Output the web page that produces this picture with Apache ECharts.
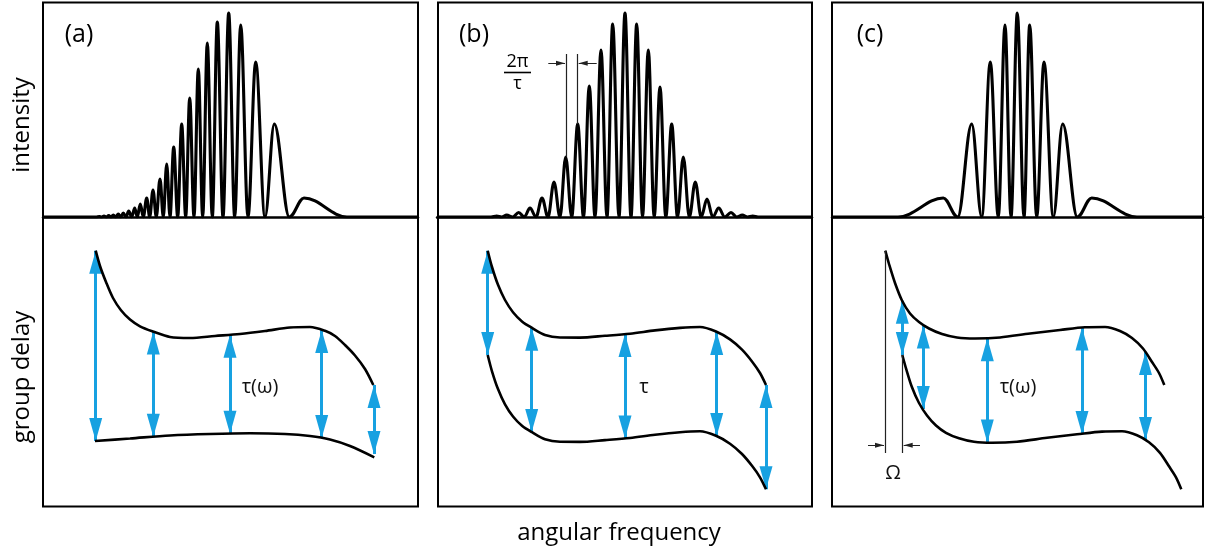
<!DOCTYPE html>
<html>
<head>
<meta charset="utf-8">
<script src="https://cdn.jsdelivr.net/npm/echarts@6.0.0/dist/echarts.min.js"></script>
<style>
    html, body { margin: 0; padding: 0; background: #fff; }
    #chart { width: 1205px; height: 550px; }
</style>
</head>
<body>
<div id="chart"></div>
<script>
(function () {

    // ---- intensity spectra: fringe peaks (x, height) and zero crossings ----
    var peaksAX = [56.3, 61, 65.7, 70.3, 75.3, 80.3, 85.7, 91.7, 97.3, 103.7, 110, 117, 123.7, 130.7, 138.7, 146.7, 155.3, 164.3, 174.3, 185.7, 197.7, 212.7, 231.3, 261];
    var peaksAH = [0.5, 1, 1.5, 2, 3, 4, 6, 9, 13, 19, 27, 38, 53, 70, 93, 119, 148, 174, 195, 204, 192, 155, 93, 19];
    var zerosAX = [53, 58.7, 63.3, 68, 72.7, 77.7, 83, 88.7, 94.3, 100.3, 106.7, 113.3, 120.3, 127, 134.7, 142.7, 151, 159.7, 169.3, 180, 191.7, 205, 222, 246.3, 304];

    var peaksBX = [59.7, 69.7, 81.7, 93, 105, 117, 128.7, 140.7, 152.3, 164, 175.7, 188, 199.7, 211.3, 223, 234.7, 246.3, 258.3, 270, 281.7, 294, 305.3, 315.7];
    var peaksBH = [1, 2, 4.5, 9, 19, 35, 60, 93, 131, 167, 193, 204, 193, 167, 130, 93, 60, 35, 18, 9, 4.5, 2, 1];
    var zerosBX = [54, 64.7, 75.7, 87.3, 99, 111, 123, 134.7, 146.5, 158, 170, 182, 194, 205.5, 217.2, 228.8, 240.5, 252.3, 264.2, 275.8, 287.8, 299.7, 310.5, 321];

    var peaksCX = [111.3, 139.7, 158.3, 173, 185.3, 197.7, 212, 230.7, 259.7];
    var peaksCH = [19, 93, 155, 192, 204, 192, 155, 93, 19];
    var zerosCX = [66, 125.7, 149.7, 166.3, 179, 192, 204.7, 221.3, 245.3, 305];

    // ---- group delay curves [frequency, delay] ----
    var delayUpperA = [[52.7, 256.3], [57, 241], [63, 225], [70, 209], [78, 196.8], [87, 187.5], [97, 180.7], [110, 175.5], [127, 170], [147, 169], [172, 171], [197, 173], [222, 176], [247, 179.5], [267, 180], [282, 176.2], [292, 171], [302, 162], [312, 151.5], [322, 138], [330.3, 122]];
    var delayLowerA = [[52, 66], [87, 68.5], [127, 71.5], [167, 73], [207, 73.7], [242, 73], [267, 71], [287, 67.5], [307, 61], [331.3, 49.7]];

    var delayUpperB = [[50.7, 256.3], [55, 240], [61, 222.2], [68, 207], [76, 194.8], [85, 185.6], [95, 179.1], [108, 172], [123, 169.5], [143, 169.4], [168, 171.2], [193, 173.3], [218, 176.6], [243, 179.1], [263, 180], [279, 175.5], [293, 167.6], [305, 157.3], [315, 145.5], [323, 134], [329, 122]];
    var delayLowerB = [[50.7, 152], [55, 135.7], [61, 117.9], [68, 102.7], [76, 90.5], [85, 81.3], [95, 74.8], [108, 67.7], [123, 65.2], [143, 65.1], [168, 66.9], [193, 69], [218, 72.3], [243, 74.8], [263, 75.7], [279, 71.2], [293, 63.3], [305, 53], [315, 41.2], [323, 29.7], [329, 17.7]];

    var delayUpperC = [[53.3, 256.3], [57, 243], [63, 224], [70, 206.5], [78, 193.5], [87, 185], [97, 178.5], [110, 173], [125, 169.5], [143, 168.5], [168, 169.5], [198, 173.5], [228, 177], [253, 179.7], [273, 180], [288, 176], [300, 169], [311, 158.5], [320, 145], [327, 134], [332.3, 122]];
    var delayLowerC = [[70.3, 152], [74, 138.7], [80, 119.7], [87, 104], [95, 91.5], [104, 81.5], [114, 74.2], [127, 68.7], [142, 65.2], [160, 64.2], [185, 65.2], [215, 69.2], [245, 72.7], [270, 75.4], [290, 75.7], [305, 71.7], [317, 64.7], [328, 54.2], [337, 40.7], [344, 29.7], [349.3, 17.7]];

    // delay arrows: [frequency, upper delay, lower delay]
    var arrowsA = [[52.7, 256.3, 66], [110.3, 175.4, 70.2], [187, 172.2, 73.3], [278.7, 177, 69], [331, 122, 53]];
    var arrowsB = [[50.7, 256.3, 152], [94.7, 179.3, 75], [188, 173, 68.6], [279.7, 175, 71], [329, 122, 17.7]];
    var arrowsC = [[70.3, 206.3, 152], [91.3, 181.5, 98], [155.3, 168.7, 64.5], [250, 179.5, 73], [313.5, 155, 67]];

    // fringe spacing marker (b) and shift marker (c)
    var fringeGuidesB = [[129, 163, 60], [140.7, 163, 93]];
    var fringeArrowsB = [[111.3, 128, 153.7], [159.7, 141.7, 153.7]];
    var shiftGuidesC = [[53.3, 256.3, 54], [70.7, 152, 54]];
    var shiftArrowsC = [[36, 52, 61.7], [88, 71.7, 61.7]];

    var BLUE = '#17a1e1';
    var FONT = '"Open Sans", "Noto Sans", sans-serif';
    var TOP_H = 215, BOT_H = 290;

    var panels = [
        {left: 43, right: 418, frame: 43, tag: '(a)', tagX: 79, label: 'τ(ω)', labelX: 260,
            peaksX: peaksAX, peaksH: peaksAH, zerosX: zerosAX, upper: delayUpperA, lower: delayLowerA, arrows: arrowsA},
        {left: 437, right: 812, frame: 438, tag: '(b)', tagX: 474, label: 'τ', labelX: 644,
            peaksX: peaksBX, peaksH: peaksBH, zerosX: zerosBX, upper: delayUpperB, lower: delayLowerB, arrows: arrowsB},
        {left: 832, right: 1203, frame: 832, tag: '(c)', tagX: 870, label: 'τ(ω)', labelX: 1018,
            peaksX: peaksCX, peaksH: peaksCH, zerosX: zerosCX, upper: delayUpperC, lower: delayLowerC, arrows: arrowsC}
    ];

    function spectrum(p, width) {
        var pts = [[0, 0], [width, 0]];
        p.peaksX.forEach(function (x, i) { pts.push([x, p.peaksH[i]]); });
        p.zerosX.forEach(function (x) { pts.push([x, 0]); });
        pts.sort(function (a, b) { return a[0] - b[0]; });
        return pts;
    }

    // arrow heads with the tip exactly on the point
    function heads(data, gi, dir, size, color, z) {
        var rot = {up: 0, down: 180, right: -90, left: 90}[dir];
        var h = size[1] / 2;
        var off = {up: [0, h], down: [0, -h], right: [-h, 0], left: [h, 0]}[dir];
        return {
            type: 'scatter', xAxisIndex: gi, yAxisIndex: gi, data: data,
            symbol: 'triangle', symbolSize: size, symbolRotate: rot, symbolOffset: off,
            itemStyle: {color: color, opacity: 1}, z: z, silent: true
        };
    }

    function segs(list, gi, color, width, z) {
        return {
            type: 'lines', coordinateSystem: 'cartesian2d', xAxisIndex: gi, yAxisIndex: gi,
            data: list.map(function (c) { return {coords: c}; }),
            lineStyle: {color: color, width: width, opacity: 1, curveness: 0},
            symbol: 'none', z: z, silent: true
        };
    }

    var grid = [], xAxis = [], yAxis = [], series = [], graphic = [];

    panels.forEach(function (p, i) {
        var W = p.right - p.left;
        var gt = 2 * i, gb = 2 * i + 1;
        grid.push({left: p.left, width: W, top: 2, height: TOP_H});
        grid.push({left: p.left, width: W, top: 217, height: BOT_H});
        xAxis.push({
            gridIndex: gt, type: 'value', min: 0, max: W,
            axisLine: {show: true, lineStyle: {color: '#000', width: 2.5}},
            axisTick: {show: false}, axisLabel: {show: false}, splitLine: {show: false}
        });
        xAxis.push({gridIndex: gb, type: 'value', min: 0, max: W, show: false});
        yAxis.push({gridIndex: gt, type: 'value', min: 0, max: TOP_H, show: false});
        yAxis.push({gridIndex: gb, type: 'value', min: 0, max: BOT_H, show: false});

        series.push({
            type: 'line', xAxisIndex: gt, yAxisIndex: gt, data: spectrum(p, W),
            showSymbol: false, smooth: 0.36, smoothMonotone: 'x',
            lineStyle: {color: '#000', width: 3.1, join: 'round'}, z: 5, silent: true
        });
        [p.upper, p.lower].forEach(function (d) {
            series.push({
                type: 'line', xAxisIndex: gb, yAxisIndex: gb, data: d,
                showSymbol: false, smooth: 0.3,
                lineStyle: {color: '#000', width: 2.6}, z: 5, silent: true
            });
        });

        series.push(segs(p.arrows.map(function (a) { return [[a[0], a[1]], [a[0], a[2]]]; }), gb, BLUE, 3, 3));
        series.push(heads(p.arrows.map(function (a) { return [a[0], a[1]]; }), gb, 'up', [13, 23], BLUE, 3));
        series.push(heads(p.arrows.map(function (a) { return [a[0], a[2]]; }), gb, 'down', [13, 23], BLUE, 3));

        graphic.push({
            type: 'rect', shape: {x: p.frame, y: 2.5, width: p.right - p.frame, height: 504},
            style: {fill: 'none', stroke: '#000', lineWidth: 2}, z: 10
        });
        graphic.push({
            type: 'text', x: p.tagX, y: 35,
            style: {text: p.tag, font: '25px ' + FONT, fill: '#000', align: 'center', verticalAlign: 'middle'}
        });
        graphic.push({
            type: 'text', x: p.labelX, y: 387,
            style: {text: p.label, font: '20px ' + FONT, fill: '#111', align: 'center', verticalAlign: 'middle'}
        });
    });

    // (b) fringe spacing 2π/τ
    series.push(segs(fringeGuidesB.map(function (g) { return [[g[0], g[1]], [g[0], g[2]]]; }), 2, '#222', 1.2, 6));
    series.push(segs(fringeArrowsB.map(function (a) { return [[a[0], a[2]], [a[1], a[2]]]; }), 2, '#222', 1.2, 6));
    series.push(heads([[fringeArrowsB[0][1], fringeArrowsB[0][2]]], 2, 'right', [5, 9], '#222', 6));
    series.push(heads([[fringeArrowsB[1][1], fringeArrowsB[1][2]]], 2, 'left', [5, 9], '#222', 6));

    // (c) frequency shift Ω
    series.push(segs(shiftGuidesC.map(function (g) { return [[g[0], g[1]], [g[0], g[2]]]; }), 5, '#222', 1.2, 6));
    series.push(segs(shiftArrowsC.map(function (a) { return [[a[0], a[2]], [a[1], a[2]]]; }), 5, '#222', 1.2, 6));
    series.push(heads([[shiftArrowsC[0][1], shiftArrowsC[0][2]]], 5, 'right', [5, 9], '#222', 6));
    series.push(heads([[shiftArrowsC[1][1], shiftArrowsC[1][2]]], 5, 'left', [5, 9], '#222', 6));

    graphic.push(
        {type: 'text', x: 517.5, y: 62, style: {text: '2π', font: '18px ' + FONT, fill: '#000', align: 'center', verticalAlign: 'middle'}},
        {type: 'line', shape: {x1: 504, y1: 72.5, x2: 531, y2: 72.5}, style: {stroke: '#000', lineWidth: 1.6}},
        {type: 'text', x: 517.5, y: 84, style: {text: 'τ', font: '18px ' + FONT, fill: '#000', align: 'center', verticalAlign: 'middle'}},
        {type: 'text', x: 893, y: 473, style: {text: 'Ω', font: '20px ' + FONT, fill: '#111', align: 'center', verticalAlign: 'middle'}},
        {type: 'text', x: 22, y: 125, rotation: Math.PI / 2,
            style: {text: 'intensity', font: '24px ' + FONT, fill: '#000', align: 'center', verticalAlign: 'middle'}},
        {type: 'text', x: 22, y: 377, rotation: Math.PI / 2,
            style: {text: 'group delay', font: '24px ' + FONT, fill: '#000', align: 'center', verticalAlign: 'middle'}},
        {type: 'text', x: 619, y: 533,
            style: {text: 'angular frequency', font: '24px ' + FONT, fill: '#000', align: 'center', verticalAlign: 'middle'}}
    );

    var chart = echarts.init(document.getElementById('chart'), null, {renderer: 'canvas'});
    chart.setOption({
        backgroundColor: '#fff',
        animation: false,
        grid: grid,
        xAxis: xAxis,
        yAxis: yAxis,
        series: series,
        graphic: graphic
    });

})();
</script>
</body>
</html>
